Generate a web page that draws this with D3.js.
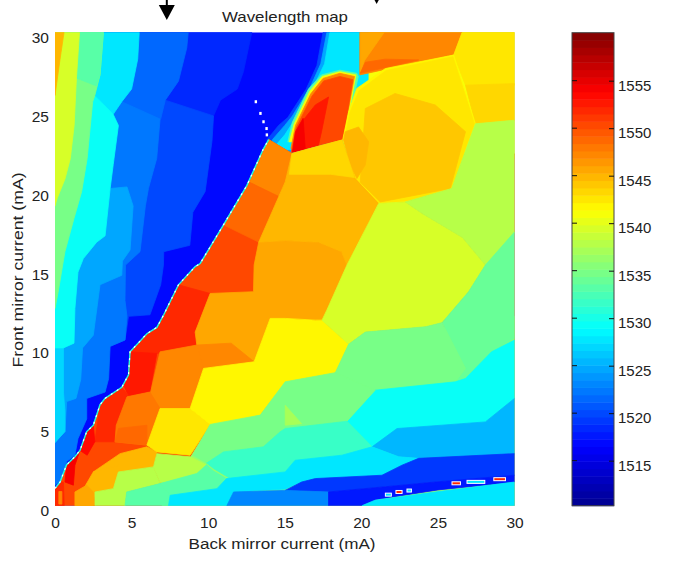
<!DOCTYPE html>
<html>
<head>
<meta charset="utf-8">
<script src="https://cdn.jsdelivr.net/npm/d3@7"></script>
<style>
body { margin: 0; background: #fff; }
text { font-family: "Liberation Sans", Arial, sans-serif; fill: #222; }
</style>
</head>
<body>
<div id="viz"></div>
<script>
const width = 685;
const height = 564;

// Wavelength plateaus: [back mA, front mA] outlines, painted in order
const leftWavelengths = [1518.7, 1519.8, 1521.5, 1522.5, 1525, 1527.5, 1527.3, 1529, 1534.6, 1533.4, 1539.5, 1545];
const leftOutlines = [
    [[0,30],[12.85,30],[12.3,27.5],[11.9,26.4],[10.8,25.7],[10.35,24.7],[0,24]],
    [[0,26],[7.2,25.7],[10.35,24.7],[10.25,23.1],[9.8,19.9],[9,18.6],[8.8,16.5],[7.1,16.1],[7.08,15.25],[6.9,14],[6.2,12.1],[4.8,12],[4.57,10.5],[3.6,10.1],[0,10]],
    [[0,30],[8.7,30],[8.6,29],[8.06,26.9],[7.2,25.7],[6.9,24.5],[0,24]],
    [[0,25.6],[4.36,25.6],[6.86,24.5],[6.64,22],[6.1,20.1],[5.9,19],[5.55,16.1],[4.6,15.25],[4.57,13],[4.7,12],[4.57,10.5],[3.6,10.1],[3.5,8.05],[3.27,7.2],[2.07,6.8],[2.07,5.5],[1.5,4.25],[1.3,3.2],[0.76,2.8],[0.55,1.7],[0,1.3]],
    [[0,20.1],[3.6,20.1],[4.7,20.2],[5.1,19],[4.9,16.2],[4.4,15.5],[4.36,14.6],[2.94,14],[2.5,10.8],[1.8,10],[1.68,8],[1.37,6.8],[0.76,6.6],[0.65,4.7],[0,4]],
    [[0,30],[5.5,30],[5.4,28.3],[5,26.4],[4.36,25.6],[3.8,24.8],[2.6,26],[0,26]],
    [[0,10.2],[0.55,10],[0.55,7.2],[0.65,6],[0.65,4.7],[0,4]],
    [[0,26],[2.6,26],[3.8,24.8],[4.14,24.1],[3.8,21.6],[3.6,20.1],[3.27,17.1],[2.72,16.7],[1.85,15.66],[1.5,14.8],[1.3,12.5],[1.24,10.3],[0.55,10],[0,10]],
    [[0,30],[3.16,30],[2.94,27.3],[2.6,26],[2.46,25.6],[2.1,22],[1.74,19.9],[1.24,18.2],[0.65,16.1],[0.5,15.25],[0.2,13.5],[0,12.5]],
    [[1,30],[3.16,30],[2.94,27.3],[2.7,26.6],[1.4,27.1]],
    [[0,30],[1.6,30],[1.4,27.1],[1.25,24.1],[1,22],[0.65,20.7],[0.15,19.5],[0,19]],
    [[0,30],[0.59,30],[0.33,28.3],[0,26]],
];

// Fast gradient around the two lobes near the top middle
const lobeWavelengths = [1520, 1525, 1527.5, 1541, 1533, 1541, 1547, 1550, 1552.5, 1554];
const lobeOutlines = [
    [[17.5,30],[17.1,27.9],[16.4,26.4],[15.2,24.6],[14.6,24.1],[13.85,23.2],[14,22.4],[21,22.4],[21,30]],
    [[17.75,30],[17.35,28],[16.7,26.6],[15.5,24.7],[15,24.1],[14.2,23.2],[14,22.4],[21,22.4],[21,30]],
    [[17.95,30],[17.6,28],[17,26.8],[15.6,24.4],[15,23.5],[14.2,22.6],[21,22.4],[21,30]],
    [[20.5,30],[30,30],[30,22],[20.5,22]],
    [[15.2,23.06],[15.5,24.3],[16.55,26.4],[17.4,27.3],[18.6,27.6],[19.7,27.4],[19.8,27.2],[19.2,24.5],[18.75,23.2]],
    [[15.3,23.06],[15.62,24.2],[16.62,26.25],[17.45,27.2],[18.6,27.5],[19.65,27.3],[18.85,23.2]],
    [[15.4,22.64],[15.7,24.1],[16.7,26.1],[17.5,27.08],[18.6,27.4],[19.55,27.2],[18.8,23.2]],
    [[15.42,22.4],[15.75,23.95],[16.78,25.95],[17.55,26.92],[18.6,27.2],[19.45,27],[18.8,23.2]],
    [[15.5,22.4],[16.1,24.3],[17,25.4],[17.86,25.9],[17.4,23.7],[17.2,22.85]],
    [[15.5,22.4],[15.7,23.7],[16.2,24.55],[16.34,22.6]],
];

// Mode-hop edge running up the diagonal, blue above, orange below
const hopBack = [0, 0.33, 0.76, 1.3, 1.63, 2.07, 2.5, 2.94, 3.27, 4.36, 4.8, 4.9, 6, 6.65, 7.1, 8.06, 9.15, 9.48, 11, 12.53, 13.6, 13.95];
const hopFront = [1.1, 1.5, 2.6, 3.1, 3.5, 4.7, 5.1, 6.4, 6.8, 7.5, 8.3, 9.75, 10.9, 11.3, 12.1, 14, 15.15, 15.35, 17.8, 20.3, 22.6, 23.2];
const hopWavelength = 1550;

// sits under the low-wavelength plateaus so their seams stay green
const seamWavelength = 1536;
const seamOutline = [[8.8,3],[10.2,5.2],[13.5,5.8],[15,7.9],[18.4,8.4],[19.2,10.2],[30,12],[30,0],[7,0],[6.9,1.4]];

const ridgeWavelengths = [1547.5, 1549, 1551.5, 1553, 1546, 1547, 1547, 1552, 1548, 1549, 1554, 1553.5, 1544.8, 1545, 1546, 1552, 1547, 1538, 1537.5, 1542.5, 1541.4];
const ridgeOutlines = [
    [[13.95,23.2],[15.47,22.32],[15.03,20.5],[14.6,19.6],[12.7,20.5]],
    [[12.7,20.5],[14.6,19.6],[13.3,16.7],[11,17.8]],
    [[4.9,9.75],[6,10.9],[6.65,11.3],[7.1,12.1],[8.06,14],[10.13,13.45],[9.15,11],[9.26,10.18],[6.65,9.65]],
    [[4.9,9.75],[6.65,9.65],[6.2,7.25],[4.8,6.95],[4.5,7.6],[4.8,8.3]],
    [[13.3,16.7],[15.03,16.8],[17.2,16.7],[18.7,16.1],[19.06,15.25],[17.75,12.4],[17.43,11.76],[15.03,11.87],[14.05,11.87],[13,9.12],[9.7,8.7],[9.26,10.18],[9.15,11],[10.13,13.45],[12.96,13.56],[13,15.25]],
    [[9.26,10.18],[11.5,10.3],[13,9.12],[9.7,8.7]],
    [[6.86,9.75],[9.26,10.18],[9.7,8.7],[8.82,6.16],[6.86,6.16],[6.2,7],[6.65,8.9]],
    [[3.27,6.8],[4.36,7.5],[4.8,7],[4,5.1],[3.92,4.05],[2.6,4.05],[2.94,6.4]],
    [[4.7,6.9],[6.2,7.2],[6.86,6.16],[6,3.84],[3.92,4.05],[4,5.1]],
    [[4.14,4.9],[6,5.1],[6,3.84],[3.92,4.05]],
    [[0.76,2.6],[1.3,3.1],[1.63,3.5],[1.3,2.56],[1.2,1.3],[0.65,1.5]],
    [[1.63,3.5],[2.07,4.7],[2.5,5.1],[2.6,4.05],[2.1,3.2]],
    [[4.25,3.3],[6,3.73],[6.65,3.41],[6.43,2.46],[4.25,2.14],[3.81,1.72],[2.72,2.04],[2.5,2.14]],
    [[2.5,2.14],[4.14,2.56],[4.25,2.14],[3.81,1.08],[2.61,0.87],[2.5,0],[1.3,0],[2,1.3]],
    [[1.3,0],[1.3,0.87],[2.07,1.3],[2.5,0.87],[2.61,0]],
    [[0,1.1],[0.33,1.5],[0.55,1.5],[0.6,0],[0,0]],
    [[0.25,0.9],[0.45,0.9],[0.45,0.1],[0.25,0.1]],
    [[4.14,2.14],[6.43,2.46],[6.86,1.4],[4.68,0.87],[4.57,0],[2.61,0],[2.61,0.87],[3.81,1.08]],
    [[6.65,3.3],[8.82,3.1],[9.9,2.56],[9.26,2.04],[6.86,1.45],[6.43,2.46]],
    [[6.86,6.16],[8.82,6.16],[10.13,5.15],[9.26,3.84],[8.82,3.2],[6.65,3.41],[6,3.84]],
    [[9.7,8.7],[13,9.12],[14.05,11.87],[15.03,11.87],[17,11.76],[17.43,11.76],[19.17,10.23],[18.3,8.43],[15.03,7.85],[13.4,5.74],[10.13,5.15],[8.82,6.16]],
];

// Plateaus on the right half, top to bottom
const plateauWavelengths = [1547.5, 1546, 1549, 1542.6, 1543.2, 1542, 1542.8, 1543.8, 1545, 1544.8, 1543.5, 1539.5, 1538, 1534, 1535, 1529, 1525.5, 1535, 1537, 1532, 1533.5, 1533.5, 1527.5, 1519.5, 1523, 1517.5, 1527.5];
const plateauOutlines = [
    [[19.9,30],[26.58,30],[26.03,28.6],[19.9,27.3]],
    [[19.95,30],[21.5,30],[20.2,28.2],[19.95,27.5]],
    [[19.93,27.4],[23.74,28.25],[21.56,28.3],[20.26,28.1]],
    [[26.58,30],[30,30],[30,26.65],[26.8,26.65],[26.03,28.56]],
    [[26.8,26.65],[30,26.75],[30,24.43],[27.45,24.2]],
    [[18.78,23.17],[19.17,24.96],[19.7,26.44],[21.57,27.7],[26.03,28.56],[26.36,27.5],[27.45,24.2],[25.9,20.1],[22.87,19.25],[21.13,19.15],[19.6,20.73]],
    [[18.9,23.25],[19.25,24.9],[19.85,26.3],[21.62,27.58],[25.98,28.45],[27.38,24.2],[25.86,20.12],[22.87,19.28],[21.15,19.18],[19.66,20.73]],
    [[20.26,25.17],[22.2,26.12],[24.83,25.39],[26.8,23.7],[25.81,20.1],[21.24,19.25],[19.93,20.5]],
    [[18.95,23.7],[19.82,24],[20.48,23.06],[20.26,21.6],[19.71,20.73],[19.28,21.6],[18.84,23.17]],
    [[15.47,22.32],[18.73,23.17],[19.6,20.73],[21.13,19.15],[19.06,15.25],[18.7,16.1],[17.2,16.7],[15.03,16.8],[13.3,16.7],[15.03,20.52]],
    [[15.47,22.32],[18.73,23.17],[19.55,20.8],[18,21],[15.3,21]],
    [[21.13,19.15],[22.87,19.25],[24,18.5],[26.6,17],[28.1,15.25],[27,13.56],[25.27,11.6],[24.2,11.34],[20.26,11],[19.17,10.23],[17.43,11.76],[17.75,12.4],[19.06,15.25]],
    [[22.87,19.25],[25.9,20.1],[27.45,24.2],[30,24.43],[30,17.3],[28.3,15.25],[28.1,15.25],[26.6,17],[24,18.5]],
    [[28.1,15.25],[30,17.35],[30,10.6],[28.5,9.75],[26.8,8.06],[26.14,7.85],[26.8,8.7],[25.27,11.6],[27,13.56]],
    [[20.26,11],[24.2,11.34],[25.27,11.6],[26.8,8.7],[26.14,7.85],[20.9,7.32],[18.3,8.43],[19.17,10.23]],
    [[20.9,7.32],[26.14,7.85],[26.8,8.06],[28.5,9.75],[30,10.5],[30,6.8],[28.1,5.31],[22.33,4.89],[20.7,3.73],[19.06,5.35]],
    [[22.33,4.89],[28.1,5.31],[30,6.8],[30,3.3],[23.74,3],[22.44,3.1],[20.7,3.73]],
    [[10.13,5.15],[13.4,5.74],[15.03,7.85],[18.3,8.43],[20.9,7.32],[19.06,5.35],[15.03,4.89],[14.7,4.68],[13.6,3.73],[11,3.41],[9.9,2.7],[9,3.2]],
    [[15.03,6.37],[16.1,5.2],[15.03,5.1]],
    [[11,3.41],[13.6,3.73],[14.7,4.68],[15.03,4.89],[19.06,5.35],[20.7,3.73],[18.73,3.2],[15.68,2.88],[15.03,2.14],[11.44,1.72],[10.35,2.35],[9.9,2.7]],
    [[9.9,2.6],[10.35,2.2],[11.2,1.72],[10.57,1.08],[7.52,0.66],[6.86,1.4],[9.26,2.04]],
    [[4.57,0],[4.68,0.87],[6.86,1.4],[7.52,0.66],[7.41,0]],
    [[7.41,0],[7.52,0.66],[10.57,1.08],[11.2,1.72],[15.03,2.14],[15.68,2.88],[18.73,3.2],[20.7,3.73],[22.44,3.1],[23.74,3],[22.66,2.57],[21.35,1.93],[17,1.72],[16.1,1.5],[15.03,1.05],[11.66,0.87],[11.22,0]],
    [[16.1,1.5],[17,1.72],[21.35,1.93],[22.66,2.57],[23.74,3],[30,3.3],[30,1.93],[24.83,1.5],[21.57,1.2],[17.86,0.87],[15.03,0.97]],
    [[11.22,0],[11.66,0.87],[15.03,0.97],[17.86,0.87],[17.86,0]],
    [[17.86,0],[17.86,0.87],[21.57,1.2],[24.83,1.5],[30,1.93],[30,1.5],[25,1],[21,0.4],[20,0]],
    [[20.04,0],[20.9,0.35],[24.83,0.87],[30,1.5],[30,0]],
];

// Unstable readings along the low-current edge, bottom right
const glitchStart = [21.57, 22.26, 22.98, 25.92, 26.9, 28.65];
const glitchEnd = [21.96, 22.66, 23.27, 26.47, 28.06, 29.41];
const glitchFront = [0.7, 0.87, 0.96, 1.42, 1.51, 1.68];
const glitchWavelength = [1528, 1552, 1528, 1552, 1528, 1552];

// White specks at the top of the diagonal edge
const speckBack = [13.4, 13.6, 13.8, 13.82, 13.1];
const speckFront = [24.86, 24.33, 23.9, 23.5, 25.6];

const backTicks = [0, 5, 10, 15, 20, 25, 30];
const frontTicks = [0, 5, 10, 15, 20, 25, 30];
const barTicks = [1515, 1520, 1525, 1530, 1535, 1540, 1545, 1550, 1555];
const arrowBack = [7.3, 21];

const baseWavelength = 1517;
const barMin = 1510.26;
const barMax = 1560.05;

const svg = d3.select('#viz')
    .append("svg")
    .attr('width', width)
    .attr('height', height)
    .style("display", "block");

const xScale = d3.scaleLinear().domain([0, 30]).range([55, 514.5]);
const yScale = d3.scaleLinear().domain([0, 30]).range([505.7, 32.3]);
const barScale = d3.scaleLinear().domain([barMin, barMax]).range([505.7, 32.7]);

// 64 step jet colormap
const levels = 64;
const jet = d3.scaleLinear()
    .domain([0, 1 / 8, 3 / 8, 5 / 8, 7 / 8, 1])
    .range(["#00008f", "#0000ff", "#00ffff", "#ffff00", "#ff0000", "#800000"]);
const levelOf = v => Math.max(0, Math.min(levels - 1, Math.floor((v - barMin) / (barMax - barMin) * levels)));
const color = v => jet((levelOf(v) + 0.5) / levels);

svg.append("clipPath").attr("id", "plot")
    .append("rect")
    .attr("x", xScale(0))
    .attr("y", yScale(30))
    .attr("width", xScale(30) - xScale(0))
    .attr("height", yScale(0) - yScale(30));

const map = svg.append("g").attr("clip-path", "url(#plot)");
const outline = d3.line().x(d => xScale(d[0])).y(d => yScale(d[1]));

function paint(wavelengths, outlines) {
    map.append("g")
        .selectAll("path")
        .data(outlines)
        .join("path")
        .attr("d", d => outline(d) + "Z")
        .attr("fill", (d, i) => color(wavelengths[i]))
        .attr("stroke", (d, i) => color(wavelengths[i]))
        .attr("stroke-width", 0.8);
}

map.append("rect")
    .attr("x", xScale(0))
    .attr("y", yScale(30))
    .attr("width", xScale(30) - xScale(0))
    .attr("height", yScale(0) - yScale(30))
    .attr("fill", color(baseWavelength));

paint(leftWavelengths, leftOutlines);
paint(lobeWavelengths, lobeOutlines);

// everything under the diagonal edge starts out orange
const hopPoints = hopBack.map((b, i) => [b, hopFront[i]]);
paint([hopWavelength], [hopPoints.concat([[15.5, 22.3], [30, 22.3], [30, 0], [0, 0]])]);
paint([seamWavelength], [seamOutline]);
paint(ridgeWavelengths, ridgeOutlines);
paint(plateauWavelengths, plateauOutlines);

// edge fringe
map.append("path")
    .attr("d", outline(hopPoints))
    .attr("fill", "none")
    .attr("stroke", color(1530))
    .attr("stroke-width", 1.4);
map.append("path")
    .attr("d", outline(hopPoints))
    .attr("fill", "none")
    .attr("stroke", "#fff")
    .attr("stroke-width", 1.2)
    .attr("stroke-dasharray", "2 5");

map.append("g").selectAll("rect")
    .data(speckBack)
    .join("rect")
    .attr("x", d => xScale(d) - 1)
    .attr("y", (d, i) => yScale(speckFront[i]) - 1.5)
    .attr("width", 2.4)
    .attr("height", 3)
    .attr("fill", "#fff");

map.append("g").selectAll("rect")
    .data(glitchStart)
    .join("rect")
    .attr("x", d => xScale(d))
    .attr("y", (d, i) => yScale(glitchFront[i]) - 1.5)
    .attr("width", (d, i) => xScale(glitchEnd[i]) - xScale(d))
    .attr("height", 3)
    .attr("fill", (d, i) => color(glitchWavelength[i]))
    .attr("stroke", "#fff")
    .attr("stroke-width", 1);

// axes
const xAxis = svg.append("g")
    .attr("transform", `translate(0, ${yScale(0)})`)
    .call(d3.axisBottom(xScale).tickValues(backTicks).tickSize(0).tickPadding(11));
const yAxis = svg.append("g")
    .attr("transform", `translate(${xScale(0)}, 0)`)
    .call(d3.axisLeft(yScale).tickValues(frontTicks).tickSize(0).tickPadding(6));
xAxis.select(".domain").remove();
yAxis.select(".domain").remove();
yAxis.selectAll("text").attr("dy", "0.65em");
svg.selectAll("g.tick text").style("font-size", "15.5px").style("font-family", '"Liberation Sans", Arial, sans-serif');

svg.append("text")
    .attr("x", 282)
    .attr("y", 549)
    .attr("text-anchor", "middle")
    .attr("textLength", 187)
    .attr("lengthAdjust", "spacingAndGlyphs")
    .style("font-size", "15.5px")
    .text("Back mirror current (mA)");

svg.append("text")
    .attr("transform", "translate(23, 270) rotate(-90)")
    .attr("text-anchor", "middle")
    .attr("textLength", 195)
    .attr("lengthAdjust", "spacingAndGlyphs")
    .style("font-size", "15.5px")
    .text("Front mirror current (mA)");

svg.append("text")
    .attr("x", 285)
    .attr("y", 22)
    .attr("text-anchor", "middle")
    .attr("textLength", 126)
    .attr("lengthAdjust", "spacingAndGlyphs")
    .style("font-size", "15px")
    .text("Wavelength map");

// arrows poking in from above the plot
const arrows = svg.append("g").selectAll("g")
    .data(arrowBack)
    .join("g")
    .attr("transform", (d, i) => `translate(${xScale(d)}, ${i === 0 ? 20 : 4})`);
arrows.append("path")
    .attr("d", d3.line()([[0, 0], [-8, -15], [8, -15]]) + "Z")
    .attr("fill", "#000");
arrows.append("line")
    .attr("y1", -30)
    .attr("y2", -10)
    .attr("stroke", "#000")
    .attr("stroke-width", 2);

// colorbar
const barX = 572;
const barW = 42;
const barLevels = d3.range(levels);
const levelHeight = (barScale(barMin) - barScale(barMax)) / levels;
svg.append("g").selectAll("rect")
    .data(barLevels)
    .join("rect")
    .attr("x", barX)
    .attr("width", barW)
    .attr("y", d => barScale(barMin) - (d + 1) * levelHeight)
    .attr("height", levelHeight + 0.5)
    .attr("fill", d => jet((d + 0.5) / levels));
svg.append("rect")
    .attr("x", barX)
    .attr("y", barScale(barMax))
    .attr("width", barW)
    .attr("height", barScale(barMin) - barScale(barMax))
    .attr("fill", "none")
    .attr("stroke", "#444");

const barAxis = svg.append("g")
    .attr("transform", `translate(${barX + barW}, 0)`)
    .call(d3.axisRight(barScale).tickValues(barTicks).tickFormat(d3.format("d")).tickSize(-5).tickPadding(4));
barAxis.select(".domain").remove();
barAxis.selectAll("line").attr("stroke", "#111");
barAxis.selectAll("text").attr("dy", "0.65em").style("font-size", "15px").style("font-family", '"Liberation Sans", Arial, sans-serif');
svg.append("g").selectAll("line")
    .data(barTicks)
    .join("line")
    .attr("x1", barX)
    .attr("x2", barX + 5)
    .attr("y1", d => barScale(d))
    .attr("y2", d => barScale(d))
    .attr("stroke", "#111");
</script>
</body>
</html>
